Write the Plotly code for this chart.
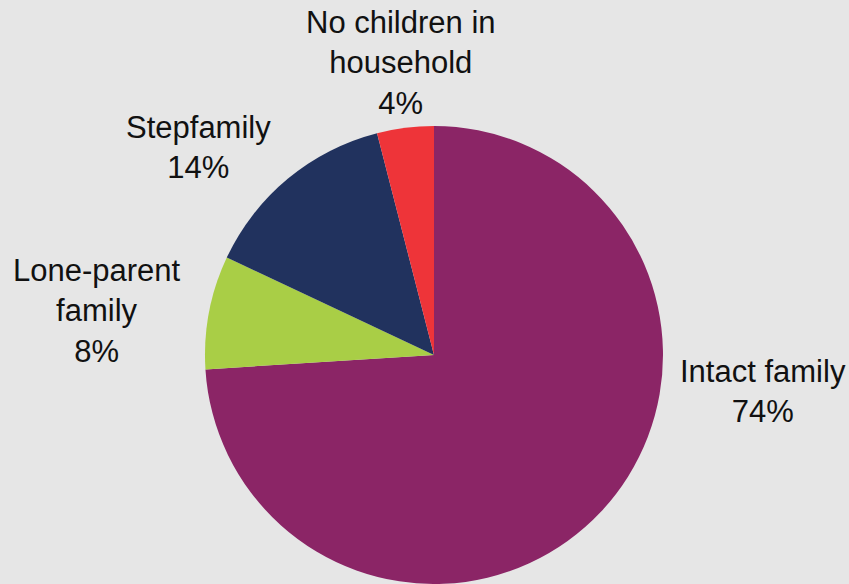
import plotly.graph_objects as go

categories = ["Intact family", "Lone-parent family", "Stepfamily", "No children in household"]
values = [74, 8, 14, 4]
label_texts = ["Intact family<br>74%", "Lone-parent<br>family<br>8%", "Stepfamily<br>14%",
               "No children in<br>household<br>4%"]
colors = ["#8B2566", "#A9CE46", "#21325E", "#EE3439"]
# label anchor positions (paper coords)
label_x = [0.899, 0.114, 0.234, 0.472]
label_y = [0.329, 0.467, 0.747, 0.892]

W, H = 849, 584
fig = go.Figure(go.Pie(
    labels=categories, values=values, sort=False, direction="clockwise", rotation=0,
    marker=dict(colors=colors, line=dict(width=0)),
    textinfo="none", hoverinfo="label+percent", showlegend=False,
    domain=dict(x=[205 / W, 663 / W], y=[0, 1 - 126 / H]),
))
for t, x, y in zip(label_texts, label_x, label_y):
    fig.add_annotation(text=t, x=x, y=y, xref="paper", yref="paper", showarrow=False,
                       xanchor="center", yanchor="middle",
                       font=dict(family="Liberation Sans, Arial", size=31, color="#111111"))
fig.update_layout(width=W, height=H, margin=dict(l=0, r=0, t=0, b=0),
                  paper_bgcolor="#E6E6E6", plot_bgcolor="#E6E6E6")
fig.write_html("out.html", config={"displayModeBar": False},
               post_script="document.body.style.margin='0';document.body.style.background='#E6E6E6';")
